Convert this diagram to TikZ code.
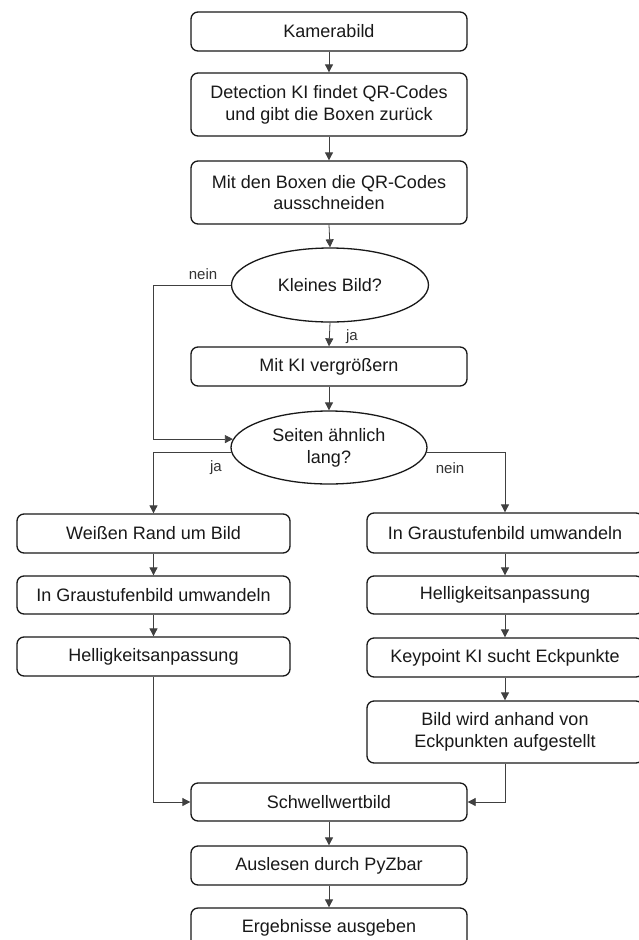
\documentclass[tikz,border=0pt]{standalone}
\usepackage{fontspec}
\setmainfont{Liberation Sans}
\usetikzlibrary{shapes.geometric,arrows.meta}
\begin{document}
\begin{tikzpicture}[x=1pt,y=-1pt,
  box/.style={draw=black!90, line width=1.3pt, rounded corners=7pt, align=center,
     inner sep=0pt, text=black!90, font=\fontsize{18}{21.7}\selectfont},
  wbox/.style={box, minimum width=276pt},
  oval/.style={ellipse, draw=black!90, line width=1.3pt, align=center, inner sep=0pt,
     minimum width=197pt, minimum height=74pt, text=black!90, font=\fontsize{18}{21.7}\selectfont},
  conn/.style={draw=black!75, line width=0.8pt, -{Triangle[length=8pt,width=8pt]}},
  lbl/.style={font=\fontsize{15}{17}\selectfont, text=black!80, inner sep=0pt}
]
\useasboundingbox (0,0) rectangle (639,940);
\fill[white] (0,0) rectangle (639,940);

\node[wbox, minimum height=39pt] (b1) at (329,31.5) {Kamerabild};
\node[wbox, minimum height=63pt] (b2) at (329,104.5) {Detection KI findet QR-Codes\\und gibt die Boxen zurück};
\node[wbox, minimum height=63pt] (b3) at (329,192.5) {Mit den Boxen die QR-Codes\\ausschneiden};
\node[oval] (e1) at (330,285) {Kleines Bild?};
\node[wbox, minimum height=39pt] (b4) at (329,366.5) {Mit KI vergrößern};
\node[oval, minimum width=196pt, minimum height=73pt] (e2) at (329,447.5) {Seiten ähnlich\\lang?};

\node[box, minimum width=273pt, minimum height=39pt] (l1) at (153.5,533.5) {Weißen Rand um Bild};
\node[box, minimum width=273pt, minimum height=38pt] (l2) at (153.5,595) {In Graustufenbild umwandeln};
\node[box, minimum width=273pt, minimum height=39pt] (l3) at (153.5,656.5) {Helligkeitsanpassung};

\node[wbox, minimum height=40pt] (r1) at (505,533) {In Graustufenbild umwandeln};
\node[wbox, minimum height=38pt] (r2) at (505,595) {Helligkeitsanpassung};
\node[wbox, minimum height=39pt] (r3) at (505,657.5) {Keypoint KI sucht Eckpunkte};
\node[wbox, minimum height=62pt] (r4) at (505,732) {Bild wird anhand von\\Eckpunkten aufgestellt};

\node[wbox, minimum height=38pt] (s) at (329,802) {Schwellwertbild};
\node[wbox, minimum height=39pt] (a) at (329,865.5) {Auslesen durch PyZbar};
\node[wbox, minimum height=39pt] (e) at (329,927.5) {Ergebnisse ausgeben};

\draw[conn] (b1.south) -- (b2.north);
\draw[conn] (b2.south) -- (b3.north);
\draw[conn] (b3.south) -- (e1.north);
\draw[conn] (e1.south) -- (b4.north);
\draw[conn] (b4.south) -- (e2.north);
\draw[conn] (e1.west) -- (e1.west -| l1.north) |- (e2.175);
\draw[conn] (e2.183) -| (l1.north);
\draw[conn] (e2.357) -| (r1.north);
\draw[conn] (l1.south) -- (l2.north);
\draw[conn] (l2.south) -- (l3.north);
\draw[conn] (r1.south) -- (r2.north);
\draw[conn] (r2.south) -- (r3.north);
\draw[conn] (r3.south) -- (r4.north);
\draw[conn] (l3.south) |- (s.west);
\draw[conn] (r4.south) |- (s.east);
\draw[conn] (s.south) -- (a.north);
\draw[conn] (a.south) -- (e.north);

\node[lbl] (t1) at (203,274) {nein};
\node[lbl] (t2) at (352,337) {ja};
\node[lbl] (t3) at (216,468) {ja};
\node[lbl] (t4) at (450,468) {nein};
\end{tikzpicture}
\end{document}
